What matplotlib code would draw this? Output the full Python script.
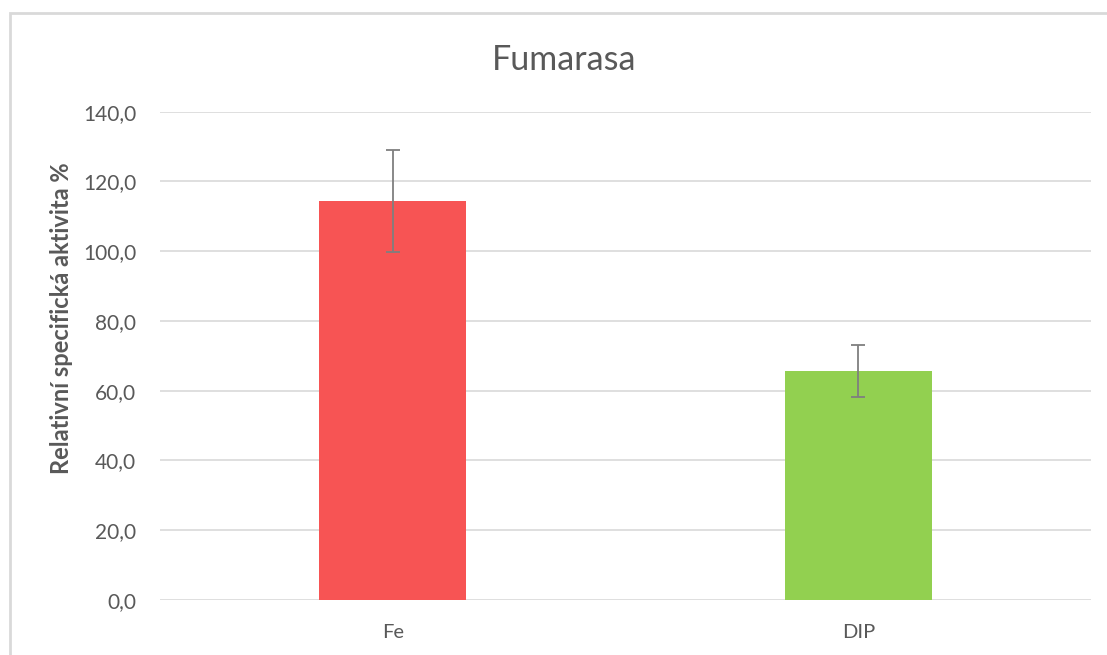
import matplotlib
matplotlib.use("Agg")
import matplotlib.pyplot as plt
from matplotlib.patches import Rectangle
import numpy as np

categories = ["Fe", "DIP"]
values = [114.4, 65.6]
errors = [14.6, 7.4]
colors = ["#F75454", "#92D050"]
yticks = [0, 20, 40, 60, 80, 100, 120, 140]
ytick_labels = ["0,0", "20,0", "40,0", "60,0", "80,0", "100,0", "120,0", "140,0"]

plt.rcParams['font.family'] = ['Lato', 'DejaVu Sans']
txt = "#595959"

W, H = 1107, 655
fig = plt.figure(figsize=(W/100, H/100), dpi=100)
ax = fig.add_axes([160/W, 1-600/H, (1091-160)/W, (600-111.7)/H])

x = np.arange(len(categories))
ax.bar(x, values, width=0.316, color=colors, zorder=3)
ax.errorbar(x, values, yerr=errors, fmt='none', ecolor="#7f7f7f", elinewidth=1.3,
            capsize=4.7, capthick=1.3, zorder=4)

ax.set_xlim(-0.5, 1.5)
ax.set_ylim(0, 140)
ax.set_yticks(yticks)
ax.set_yticklabels(ytick_labels)
ax.set_xticks(x)
ax.set_xticklabels(categories)
ax.tick_params(axis='both', length=0, colors=txt)
ax.tick_params(axis='y', pad=17, labelsize=15)
ax.tick_params(axis='x', pad=17, labelsize=14.5)
ax.grid(axis='y', color="#d9d9d9", linewidth=1.2, zorder=0)
for s in ax.spines.values():
    s.set_visible(False)

fig.text(564/W, 1-60/H, "Fumarasa", ha='center', va='center', fontsize=24.5, color=txt)
fig.text(62/W, 1-318/H, "Relativní specifická aktivita %", rotation=90,
         ha='center', va='center', fontsize=17, fontweight='bold', color=txt)

fig.patches.append(Rectangle((10/W, -0.1), 1.2, 1-13/H+0.1, transform=fig.transFigure,
                             fill=False, edgecolor="#d9d9d9", linewidth=2))

fig.savefig("out.png", dpi=100)
